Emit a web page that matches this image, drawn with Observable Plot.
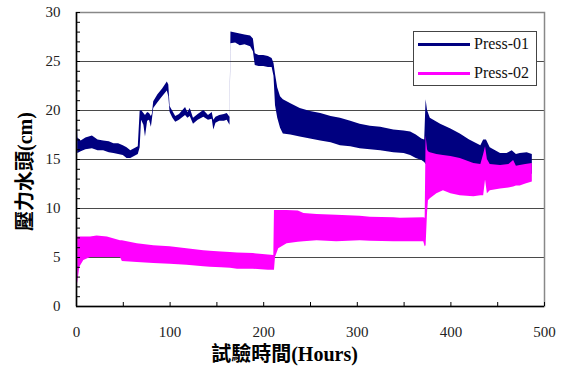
<!DOCTYPE html>
<html><head><meta charset="utf-8">
<script src="https://cdn.jsdelivr.net/npm/d3@7"></script>
<script src="https://cdn.jsdelivr.net/npm/@observablehq/plot@0.6"></script>
<style>
body{margin:0;background:#fff;}
#wrap{position:relative;width:564px;height:368px;}
#legend{position:absolute;left:413px;top:31px;width:124px;height:55px;border:1px solid #444;background:#fff;box-sizing:border-box;font-family:"Liberation Serif","Times New Roman",serif;font-size:16px;color:#111;}
.lg-row{position:absolute;left:0;height:20px;display:flex;align-items:center;}
.lg-line{width:52px;height:3px;margin-left:4px;margin-right:4px;}
</style></head><body><div id="wrap"></div>
<script>
// Press-01 envelope (hour, low, high)
const p1Hours = [0.3,1.5,5,10,17,23,29,35,40,45,50,54,58,62,66,68,69.5,72,73.7,76,78,80,81,82.5,87,92,97,98.6,100,103,106,110,116.5,119,121.5,125,130,136,141,145,146.7,149,153,158,161,164,165,170,175,180,186,189,191,195,200,205,209,211,212.6,215,218,221,229,239,250,261,272,282,293,303,314,325,339,350,357,363,369,372,373.5,375,378,389,400,410,420,432,435,438,442,453,460,465.5,470,474,481.5,487];
const p1Low  = [15.8,15.6,15.8,16.0,16.1,15.9,15.9,15.7,15.6,15.5,15.4,15.1,15.1,15.3,15.5,16.2,19.0,18.5,17.3,18.9,19.0,18.3,19.0,20.2,20.8,21.4,22.0,21.4,19.8,19.2,18.8,19.0,19.5,19.2,19.4,18.6,19.0,19.3,19.0,19.1,18.0,18.7,18.9,18.9,19.0,18.5,26.8,26.9,26.6,26.7,26.5,26.0,24.6,24.5,24.5,24.4,24.4,23.5,20.5,19.2,18.2,17.6,17.5,17.3,17.1,16.9,16.7,16.4,16.3,16.1,16.0,15.9,15.7,15.6,15.4,15.1,14.9,14.7,14.5,14.5,14.5,14.3,14.2,14.0,13.8,13.6,13.6,13.6,13.4,13.3,13.3,13.3,13.3,13.4,13.5,13.5];
const p1High = [20.3,17.2,16.9,17.2,17.4,17.0,16.9,16.8,16.6,16.6,16.4,16.2,15.9,16.1,16.3,19.9,20.0,19.7,19.5,19.8,19.7,19.4,19.6,20.9,21.6,22.2,22.9,22.6,20.4,19.9,19.4,19.6,20.3,19.8,20.2,19.2,19.6,20.0,19.5,19.8,19.0,19.3,19.5,19.6,19.7,19.3,28.0,27.9,27.8,27.7,27.6,27.3,25.8,25.6,25.6,25.5,25.3,24.8,23.7,22.3,21.4,21.1,20.7,20.2,19.9,19.7,19.4,19.2,18.9,18.6,18.4,18.3,18.0,17.9,17.8,17.5,17.1,17.0,21.1,20.0,19.2,18.6,18.1,17.6,17.0,16.4,17.0,17.0,16.2,15.6,15.6,15.9,15.5,15.6,15.7,15.5];

// Press-02 envelope (hour, low, high)
const p2Hours = [0.3,1.5,3.5,7.8,15,22,33,47,49,65,82.6,100,118,136,143,155,164.5,172,189,205,210.8,211.5,212.6,216,225,237,243,257,278,303,314,339,346,371,372.5,373.5,375,376,378,385,392,400,410,424.5,432,435,437,439,442,453,462,467,470,474,480,487];
const p2Low  = [2.0,2.5,4.0,4.7,5.0,5.0,5.0,5.0,4.6,4.5,4.4,4.3,4.2,4.05,4.0,3.95,3.9,3.8,3.8,3.7,3.7,3.7,5.0,5.9,6.4,6.55,6.6,6.7,6.6,6.7,6.65,6.6,6.6,6.6,6.1,6.2,9.5,10.8,11.0,11.5,11.8,11.5,11.3,11.2,11.3,11.3,12.9,11.5,11.8,12.0,12.1,12.2,12.3,12.3,12.5,12.7];
const p2High = [7.1,7.1,7.1,7.1,7.1,7.2,7.1,6.7,6.7,6.4,6.2,6.1,5.9,5.7,5.65,5.55,5.5,5.45,5.4,5.25,5.2,9.8,9.8,9.8,9.8,9.75,9.5,9.4,9.3,9.2,9.1,9.05,9.0,9.05,9.0,17.4,16.0,15.8,15.7,15.5,15.4,15.3,15.1,14.6,14.5,15.5,16.3,15.0,14.5,14.4,14.5,14.9,14.3,14.4,14.5,14.6];

const seriesNames = ["Press-01", "Press-02"];
const seriesColors = ["#000080", "#ff00ff"];
const yTicks = [0, 5, 10, 15, 20, 25, 30];
const yGrid = [5, 10, 15, 20, 25];
const yMinor = d3.range(0, 31, 1);
const xTicks = [0, 100, 200, 300, 400, 500];
const xMinor = d3.range(0, 501, 50);
const xLabel = "試驗時間(Hours)";
const yLabel = "壓力水頭(cm)";

const toRows = (h, lo, hi) => h.map((v, i) => ({h: v, lo: lo[i], hi: hi[i]}));
const rows1 = toRows(p1Hours, p1Low, p1High);
const rows2 = toRows(p2Hours, p2Low, p2High);

const serif = "'Liberation Serif', 'Times New Roman', 'Noto Sans CJK TC', serif";

const chart = Plot.plot({
  width: 564, height: 368,
  marginLeft: 76, marginRight: 20, marginTop: 12, marginBottom: 62,
  x: {domain: [0, 500]},
  y: {domain: [0, 30]},
  style: {fontFamily: serif, fontSize: "15px", color: "#222", background: "#fff"},
  marks: [
    Plot.ruleY(yGrid, {stroke: "#4a4a4a", strokeWidth: 1}),
    Plot.areaY(rows1, {x: "h", y1: "lo", y2: "hi", fill: seriesColors[0], curve: "linear"}),
    Plot.areaY(rows2, {x: "h", y1: "lo", y2: "hi", fill: seriesColors[1], curve: "linear"}),
    Plot.frame({stroke: "#888", strokeWidth: 1.5}),
    Plot.ruleX([0], {stroke: "#000", strokeWidth: 1.5}),
    Plot.ruleY([0], {stroke: "#000", strokeWidth: 1.5}),
    Plot.axisY({ticks: yMinor, tickSize: -4, text: null, label: null, stroke: "#000"}),
    Plot.axisY({ticks: yTicks, tickSize: 0, tickPadding: 16, label: null, fontSize: 15, fill: "#222"}),
    Plot.axisX({ticks: xMinor, tickSize: -4, text: null, label: null, stroke: "#000"}),
    Plot.axisX({ticks: xTicks, tickSize: 0, tickPadding: 20, label: null, fontSize: 15, fill: "#222"}),
    Plot.text([xLabel], {frameAnchor: "bottom", textAnchor: "middle", lineAnchor: "middle", dy: 48, dx: -26, fontWeight: "bold", fontSize: 20, fill: "#000"}),
    Plot.text([yLabel], {frameAnchor: "left", textAnchor: "middle", lineAnchor: "middle", rotate: -90, dx: -51, dy: 12, fontWeight: "bold", fontSize: 20, fill: "#000"})
  ]
});
const wrap = document.getElementById("wrap");
wrap.appendChild(chart);

const legend = document.createElement("div");
legend.id = "legend";
seriesNames.forEach((name, i) => {
  const row = document.createElement("div");
  row.className = "lg-row";
  row.style.top = (i === 0 ? 2 : 31) + "px";
  const line = document.createElement("div");
  line.className = "lg-line";
  line.style.background = seriesColors[i];
  const label = document.createElement("span");
  label.textContent = name;
  row.appendChild(line);
  row.appendChild(label);
  legend.appendChild(row);
});
wrap.appendChild(legend);
</script>
</body></html>
